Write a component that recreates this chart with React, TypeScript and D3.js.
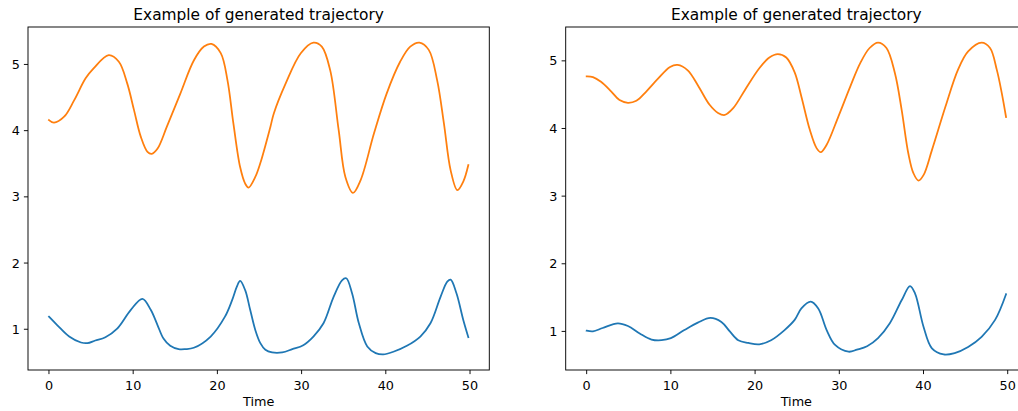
import React from "react";
import * as d3 from "d3";

// ---- data ----
const xTicks = [0, 10, 20, 30, 40, 50];
const yTicks = [1, 2, 3, 4, 5];
const titleText = "Example of generated trajectory";
const xLabel = "Time";

const leftOrangeT = [0, 0.6, 1.8, 3.0, 4.35, 5.3, 7.1, 8.3, 9.3, 10.1, 10.9, 11.7, 12.2, 12.9, 14.0, 15.6, 17.2, 18.4, 19.3, 20.4, 21.2, 21.9, 22.7, 23.3, 23.7, 24.5, 25.1, 26.3, 26.7, 28.1, 29.9, 31.4, 32.4, 33.4, 34.4, 35.2, 36.1, 37.0, 38.6, 40.1, 41.7, 42.9, 44.0, 45.1, 46.1, 46.9, 47.7, 48.5, 49.2, 49.8];
const leftOrangeV = [4.16, 4.12, 4.21, 4.46, 4.79, 4.94, 5.14, 5.04, 4.71, 4.31, 3.91, 3.68, 3.65, 3.73, 4.06, 4.56, 5.06, 5.27, 5.31, 5.17, 4.76, 4.11, 3.45, 3.2, 3.14, 3.3, 3.51, 4.06, 4.26, 4.71, 5.17, 5.33, 5.27, 4.91, 4.01, 3.3, 3.06, 3.25, 3.96, 4.56, 5.04, 5.27, 5.33, 5.22, 4.76, 4.11, 3.4, 3.1, 3.23, 3.48];

const leftBlueT = [0, 1.0, 2.4, 3.8, 4.55, 5.5, 6.7, 8.1, 9.7, 11.1, 12.1, 12.9, 13.6, 14.4, 15.4, 16.2, 17.2, 19.2, 20.9, 21.75, 22.3, 22.7, 23.3, 23.9, 24.5, 25.1, 25.7, 26.5, 27.7, 28.9, 30.2, 31.4, 32.6, 33.8, 34.8, 35.3, 36.0, 36.8, 37.8, 38.8, 39.7, 40.9, 42.5, 44.1, 45.3, 46.5, 47.3, 47.7, 48.4, 49.2, 49.8];
const leftBlueV = [1.19, 1.06, 0.89, 0.8, 0.79, 0.83, 0.88, 1.01, 1.29, 1.46, 1.29, 1.06, 0.86, 0.75, 0.7, 0.7, 0.72, 0.89, 1.19, 1.44, 1.64, 1.73, 1.59, 1.29, 0.99, 0.79, 0.69, 0.65, 0.65, 0.7, 0.76, 0.89, 1.09, 1.49, 1.74, 1.77, 1.54, 1.09, 0.74, 0.64, 0.62, 0.66, 0.75, 0.89, 1.09, 1.49, 1.72, 1.75, 1.54, 1.14, 0.88];

const rightOrangeT = [0, 0.75, 1.7, 2.9, 3.9, 4.9, 5.9, 7.1, 8.5, 9.9, 10.8, 12.0, 13.2, 14.6, 15.6, 16.4, 17.4, 18.8, 20.5, 21.7, 22.7, 23.7, 24.7, 25.5, 26.5, 27.3, 27.8, 28.5, 29.9, 31.3, 32.5, 33.6, 34.6, 35.6, 36.6, 37.4, 38.2, 38.8, 39.4, 40.0, 41.0, 42.6, 44.1, 45.3, 46.9, 47.9, 48.7, 49.3, 49.8];
const rightOrangeV = [4.77, 4.76, 4.69, 4.55, 4.42, 4.38, 4.41, 4.55, 4.74, 4.91, 4.94, 4.86, 4.64, 4.35, 4.23, 4.2, 4.3, 4.57, 4.89, 5.05, 5.1, 5.05, 4.83, 4.47, 3.98, 3.71, 3.65, 3.76, 4.18, 4.62, 4.97, 5.19, 5.27, 5.19, 4.82, 4.28, 3.63, 3.34, 3.23, 3.31, 3.68, 4.32, 4.87, 5.14, 5.27, 5.19, 4.87, 4.52, 4.17];

const rightBlueT = [0, 0.75, 1.9, 3.7, 4.9, 6.3, 7.7, 8.9, 10.0, 11.6, 13.2, 14.7, 16.0, 17.0, 18.0, 19.2, 20.5, 21.9, 23.5, 24.7, 25.5, 26.6, 27.5, 28.5, 29.5, 31.1, 32.1, 33.3, 34.6, 36.0, 37.4, 38.4, 39.0, 40.0, 41.0, 42.4, 43.7, 45.3, 46.9, 48.5, 49.8];
const rightBlueV = [1.01, 1.0, 1.05, 1.12, 1.08, 0.97, 0.88, 0.87, 0.9, 1.02, 1.13, 1.2, 1.14, 1.0, 0.87, 0.83, 0.81, 0.87, 1.02, 1.17, 1.34, 1.44, 1.34, 1.02, 0.8, 0.7, 0.73, 0.78, 0.9, 1.12, 1.46, 1.67, 1.56, 1.07, 0.75, 0.66, 0.68, 0.77, 0.92, 1.17, 1.55];

const BLUE = "#1f77b4";
const ORANGE = "#ff7f0e";
const FONT = "DejaVu Sans, sans-serif";

type Series = { t: number[]; v: number[]; color: string };

function padded(ext: [number, number]): [number, number] {
  const r = ext[1] - ext[0];
  return [ext[0] - 0.05 * r, ext[1] + 0.05 * r];
}

function Panel({ left, width, top, height, series }: { left: number; width: number; top: number; height: number; series: Series[] }) {
  const allT = series.flatMap((s) => s.t);
  const allV = series.flatMap((s) => s.v);
  const x = d3.scaleLinear().domain(padded(d3.extent(allT) as [number, number])).range([left, left + width]);
  const y = d3.scaleLinear().domain(padded(d3.extent(allV) as [number, number])).range([top + height, top]);
  const bottom = top + height;
  const tickLen = 4.1;
  const fs = 12.8;
  return (
    <g>
      {series.map((s, i) => {
        const pts: [number, number][] = s.t.map((t, j) => [t, s.v[j]]);
        const line = d3
          .line<[number, number]>()
          .x((d) => x(d[0]))
          .y((d) => y(d[1]))
          .curve(d3.curveCatmullRom.alpha(0.5));
        return <path key={i} d={line(pts) || ""} fill="none" stroke={s.color} strokeWidth={1.77} strokeLinejoin="round" strokeLinecap="square" />;
      })}
      <rect x={left} y={top} width={width} height={height} fill="none" stroke="#000" strokeWidth={0.94} />
      {xTicks.map((t) => (
        <g key={"x" + t}>
          <line x1={x(t)} x2={x(t)} y1={bottom} y2={bottom + tickLen} stroke="#000" strokeWidth={0.94} />
          <text x={x(t)} y={bottom + 19.5} textAnchor="middle" fontSize={fs} fontFamily={FONT} fill="#000">
            {t}
          </text>
        </g>
      ))}
      {yTicks.map((v) => (
        <g key={"y" + v}>
          <line x1={left - tickLen} x2={left} y1={y(v)} y2={y(v)} stroke="#000" strokeWidth={0.94} />
          <text x={left - 8.2} y={y(v)} dy="0.36em" textAnchor="end" fontSize={fs} fontFamily={FONT} fill="#000">
            {v}
          </text>
        </g>
      ))}
      <text x={left + width / 2} y={top - 7.5} textAnchor="middle" fontSize={15.4} fontFamily={FONT} fill="#000">
        {titleText}
      </text>
      <text x={left + width / 2} y={bottom + 36} textAnchor="middle" fontSize={fs} fontFamily={FONT} fill="#000">
        {xLabel}
      </text>
    </g>
  );
}

export default function App() {
  const W = 1018;
  const H = 411;
  const top = 27;
  const height = 343;
  const width = 461.3;
  return (
    <svg width={W} height={H} style={{ position: "absolute", left: 0, top: 0, background: "#fff" }}>
      <rect x={0} y={0} width={W} height={H} fill="#fff" />
      <Panel
        left={28}
        width={width}
        top={top}
        height={height}
        series={[
          { t: leftBlueT, v: leftBlueV, color: BLUE },
          { t: leftOrangeT, v: leftOrangeV, color: ORANGE },
        ]}
      />
      <Panel
        left={565.7}
        width={width}
        top={top}
        height={height}
        series={[
          { t: rightBlueT, v: rightBlueV, color: BLUE },
          { t: rightOrangeT, v: rightOrangeV, color: ORANGE },
        ]}
      />
    </svg>
  );
}
